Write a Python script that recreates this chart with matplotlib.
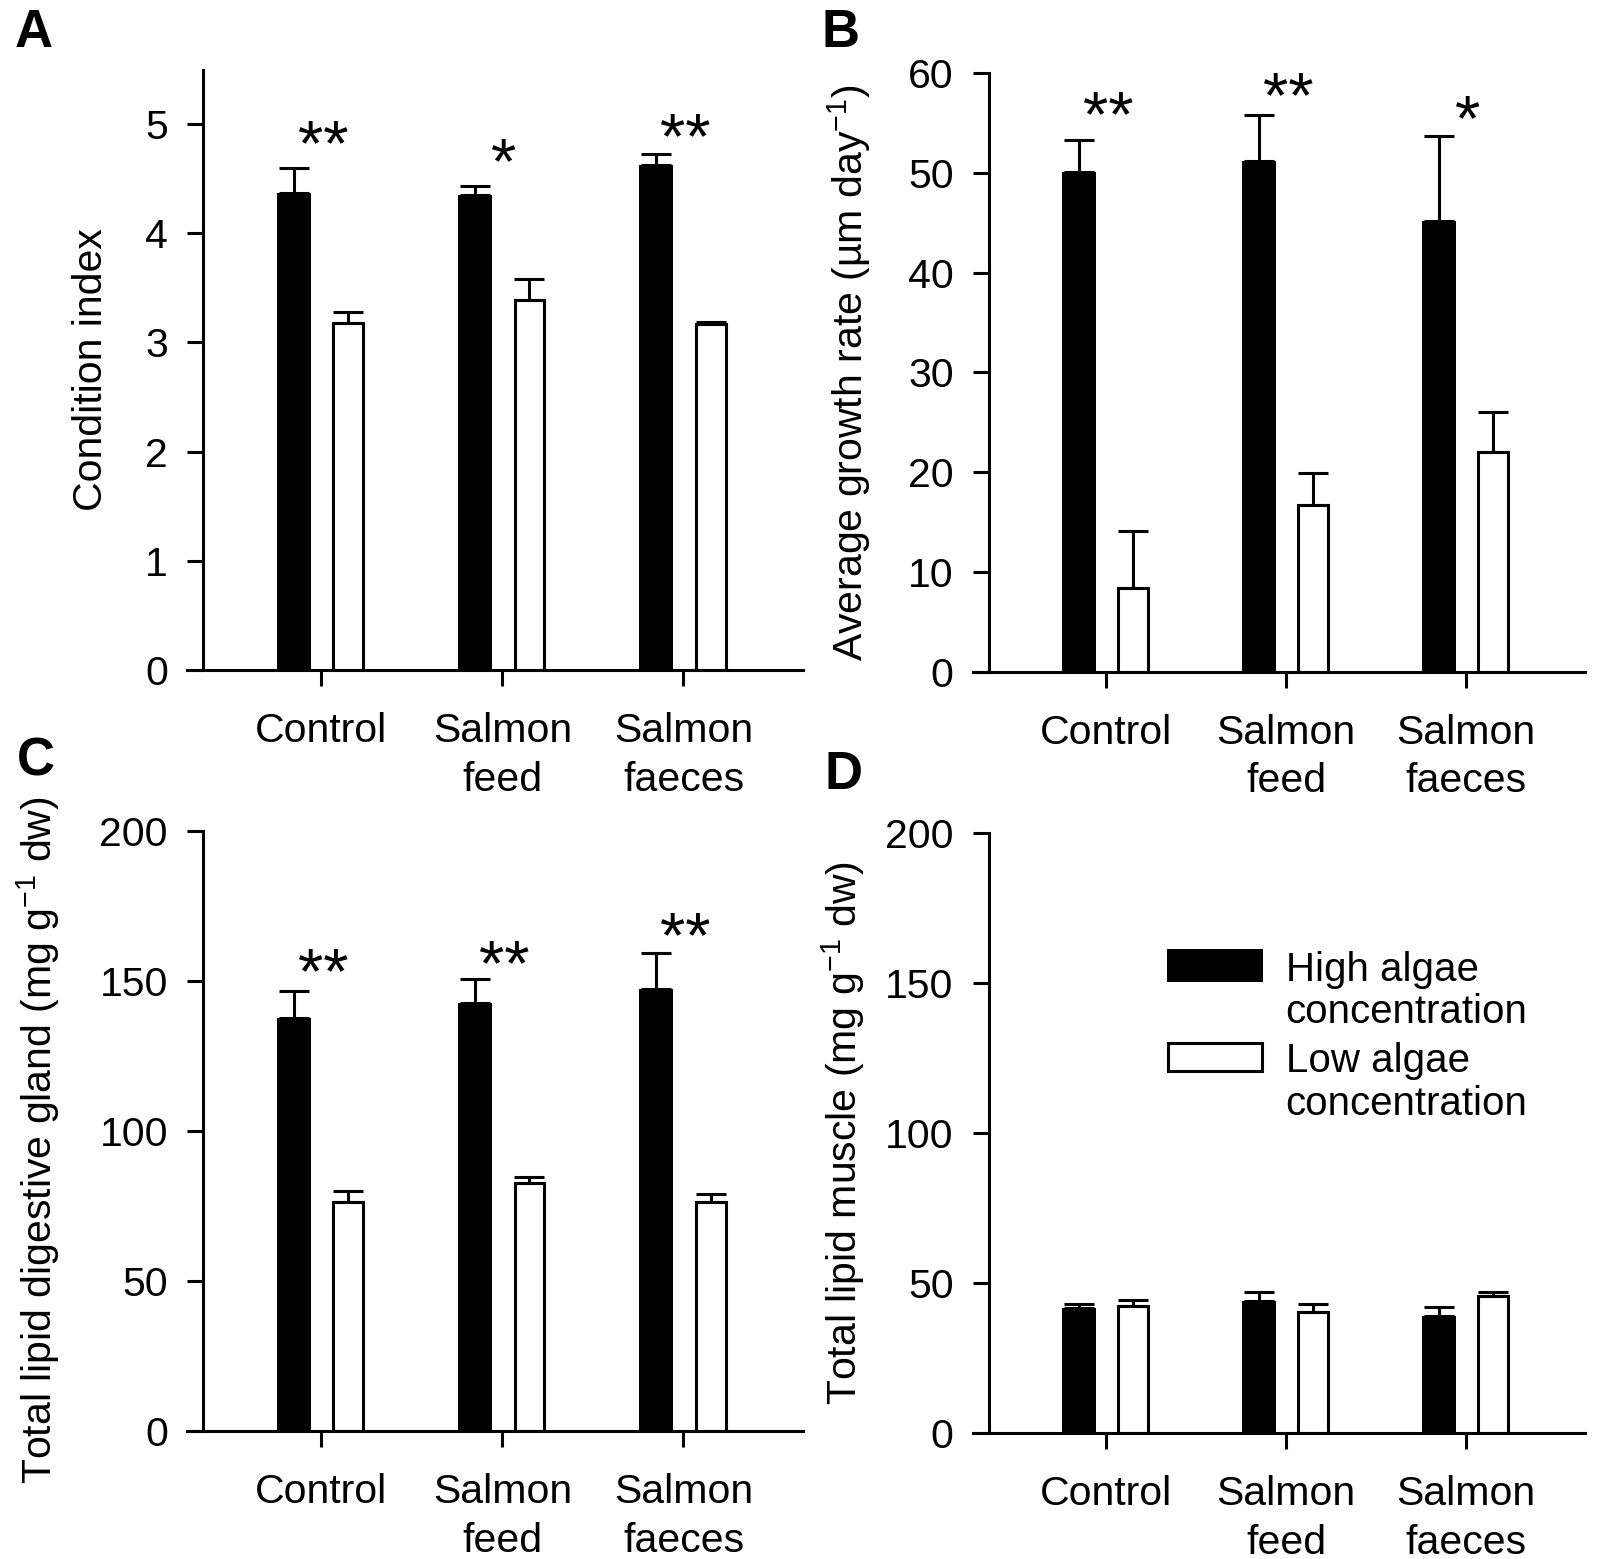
import matplotlib
matplotlib.use('Agg')
import matplotlib.pyplot as plt
import numpy as np
from matplotlib.patches import Rectangle

plt.rcParams['font.family'] = ['Liberation Sans', 'DejaVu Sans']
plt.rcParams['mathtext.fontset'] = 'custom'
plt.rcParams['mathtext.rm'] = 'Liberation Sans'
plt.rcParams['mathtext.it'] = 'Liberation Sans:italic'
plt.rcParams['mathtext.bf'] = 'Liberation Sans:bold'

# ---------------- data ----------------
categories = ['Control', 'Salmon\nfeed', 'Salmon\nfaeces']
series_labels = ['High algae', 'concentration', 'Low algae', 'concentration']

cond_high = [4.37, 4.35, 4.63]
cond_high_se = [0.23, 0.08, 0.10]
cond_low = [3.18, 3.39, 3.17]
cond_low_se = [0.10, 0.19, 0.02]
cond_stars = ['**', '*', '**']
cond_star_y = [4.89, 4.73, 4.96]

growth_high = [50.1, 51.2, 45.2]
growth_high_se = [3.2, 4.6, 8.5]
growth_low = [8.4, 16.7, 22.0]
growth_low_se = [5.7, 3.2, 4.0]
growth_stars = ['**', '**', '*']
growth_star_y = [56.6, 58.5, 56.2]

gland_high = [137.6, 142.5, 147.2]
gland_high_se = [9.1, 8.2, 12.1]
gland_low = [76.4, 82.5, 76.4]
gland_low_se = [3.5, 2.0, 2.5]
gland_stars = ['**', '**', '**']
gland_star_y = [155.8, 158.4, 167.7]

muscle_high = [41.7, 43.9, 39.1]
muscle_high_se = [1.2, 3.2, 3.0]
muscle_low = [42.3, 40.2, 45.6]
muscle_low_se = [2.1, 2.9, 1.5]

cond_ticks = [0, 1, 2, 3, 4, 5]
growth_ticks = [0, 10, 20, 30, 40, 50, 60]
lipid_ticks = [0, 50, 100, 150, 200]

# ---------------- style ----------------
LW = 2.2
FS = 29.5
STAR_FS = 47
CAP = 11

fig = plt.figure(figsize=(16, 15.59), dpi=100)

def panel(rect, hi, hi_se, lo, lo_se, ymax, yticks, ylabel, label_x,
          stars=None, star_y=None, label_y=0.5):
    ax = fig.add_axes(rect)
    x = np.arange(len(categories))
    ax.bar(x - 0.15, hi, width=0.19, color='black', edgecolor='black',
           linewidth=0, zorder=2)
    ax.bar(x + 0.15, lo, width=0.165, color='white', edgecolor='black',
           linewidth=LW, zorder=2)
    ax.errorbar(x - 0.15, hi, yerr=[np.zeros(len(hi)), hi_se], fmt='none',
                ecolor='black', elinewidth=LW, capsize=CAP, capthick=LW, zorder=3)
    ax.errorbar(x + 0.15, lo, yerr=[np.zeros(len(lo)), lo_se], fmt='none',
                ecolor='black', elinewidth=LW, capsize=CAP, capthick=LW, zorder=3)
    ax.set_xlim(-0.74, 2.66)
    ax.set_ylim(0, ymax)
    ax.set_xticks(x)
    ax.set_xticklabels(categories, linespacing=1.34)
    ax.set_yticks(yticks)
    ax.set_yticklabels([str(t) for t in yticks])
    for s in ['top', 'right']:
        ax.spines[s].set_visible(False)
    ax.spines['left'].set_position(('data', -0.65))
    ax.spines['left'].set_linewidth(LW)
    ax.spines['bottom'].set_linewidth(LW)
    ax.tick_params(axis='both', direction='out', length=11.5, width=LW,
                   labelsize=FS, color='black')
    ax.tick_params(axis='y', pad=14)
    ax.tick_params(axis='x', pad=19)
    ax.set_ylabel(ylabel, fontsize=FS)
    ax.yaxis.set_label_coords(label_x, label_y)
    if stars is not None:
        for xi, s, yv in zip(x, stars, star_y):
            ax.annotate(s, xy=(xi + 0.01, yv), xytext=(0, -0.45 * STAR_FS),
                        textcoords='offset points', ha='center', va='baseline',
                        fontsize=STAR_FS)
    return ax

axA = panel([0.1169, 0.5702, 0.385, 0.3852], cond_high, cond_high_se,
            cond_low, cond_low_se, 5.5, cond_ticks, 'Condition index', -0.125,
            cond_stars, cond_star_y)
axB = panel([0.6081, 0.5690, 0.3825, 0.3842], growth_high, growth_high_se,
            growth_low, growth_low_se, 60, growth_ticks,
            'Average growth rate (µm day$^{-1}$)', -0.163,
            growth_stars, growth_star_y)
axC = panel([0.1169, 0.0821, 0.385, 0.3849], gland_high, gland_high_se,
            gland_low, gland_low_se, 200, lipid_ticks,
            'Total lipid digestive gland (mg g$^{-1}$ dw)', -0.203,
            gland_stars, gland_star_y, label_y=0.485)
axD = panel([0.6081, 0.0808, 0.3825, 0.3849], muscle_high, muscle_high_se,
            muscle_low, muscle_low_se, 200, lipid_ticks,
            'Total lipid muscle (mg g$^{-1}$ dw)', -0.173)

# legend in panel D (manual, to match layout)
LFS = 29
axD.add_patch(Rectangle((0.317, 0.752), 0.157, 0.055, transform=axD.transAxes,
                        facecolor='black', edgecolor='black', linewidth=0,
                        clip_on=False))
axD.add_patch(Rectangle((0.3195, 0.6025), 0.152, 0.047, transform=axD.transAxes,
                        facecolor='white', edgecolor='black', linewidth=LW,
                        clip_on=False))
for lab, yb in zip(series_labels, [0.753, 0.683, 0.602, 0.530]):
    axD.text(0.511, yb, lab, transform=axD.transAxes, fontsize=LFS,
             ha='left', va='baseline')

# panel letters
for letter, (px, py) in zip(['A', 'B', 'C', 'D'],
                            [(15, 47), (821, 47), (17, 776), (824, 789)]):
    fig.text(px / 1600, 1 - py / 1559, letter, fontsize=38, fontweight='bold',
             ha='left', va='baseline')

fig.savefig('out.png', dpi=100, facecolor='white')
